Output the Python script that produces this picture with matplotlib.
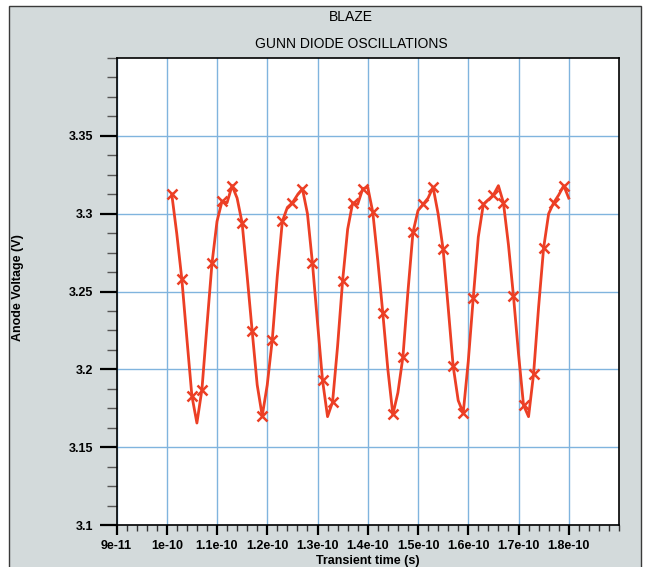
import numpy as np
import matplotlib.pyplot as plt
from matplotlib.patches import Rectangle
from matplotlib.ticker import MultipleLocator

plt.rcParams['font.family'] = ['Liberation Sans', 'DejaVu Sans']

# transient simulation output, one point per ps (markers on every 2nd point)
t_ps = np.arange(101, 181)
volts = [3.3125, 3.287, 3.258, 3.220, 3.183, 3.1655, 3.187, 3.228, 3.268, 3.295,
         3.308, 3.307, 3.318, 3.310, 3.294, 3.260, 3.2245, 3.190, 3.170, 3.190,
         3.219, 3.260, 3.295, 3.304, 3.307, 3.312, 3.316, 3.300, 3.268, 3.230,
         3.193, 3.1696, 3.179, 3.215, 3.257, 3.290, 3.307, 3.306, 3.316, 3.317,
         3.301, 3.270, 3.236, 3.200, 3.171, 3.185, 3.208, 3.250, 3.288, 3.302,
         3.306, 3.310, 3.317, 3.300, 3.277, 3.240, 3.202, 3.180, 3.172, 3.205,
         3.246, 3.285, 3.306, 3.309, 3.312, 3.318, 3.307, 3.280, 3.247, 3.210,
         3.177, 3.1696, 3.197, 3.240, 3.278, 3.300, 3.307, 3.312, 3.318, 3.310]
t = t_ps * 1e-12

xticks = [9e-11, 1e-10, 1.1e-10, 1.2e-10, 1.3e-10, 1.4e-10, 1.5e-10, 1.6e-10, 1.7e-10, 1.8e-10]
xlabels = ['9e-11', '1e-10', '1.1e-10', '1.2e-10', '1.3e-10', '1.4e-10',
           '1.5e-10', '1.6e-10', '1.7e-10', '1.8e-10']
yticks = [3.1, 3.15, 3.2, 3.25, 3.3, 3.35]
ylabels = ['3.1', '3.15', '3.2', '3.25', '3.3', '3.35']

W, H = 647, 567
fig = plt.figure(figsize=(W / 100, H / 100), dpi=100, facecolor='white')

# grey panel behind everything
panel = Rectangle((9 / W, -0.05), (641 - 9) / W, 1.05 - 6 / H,
                  transform=fig.transFigure, facecolor='#d3dadb',
                  edgecolor='#3a3a3a', lw=1.0, zorder=-10)
fig.patches.append(panel)

ax = fig.add_axes([116.5 / W, 1 - 525 / H, (619 - 116.5) / W, (525 - 58) / H])
ax.set_facecolor('white')

ax.plot(t, volts, color='#ec3f25', lw=2.0, marker='x', markevery=2,
        ms=7.5, mew=1.8, zorder=3)

ax.set_xlim(9e-11, 1.9e-10)
ax.set_ylim(3.1, 3.4)
ax.set_xticks(xticks)
ax.set_xticklabels(xlabels)
ax.set_yticks(yticks)
ax.set_yticklabels(ylabels)
ax.xaxis.set_minor_locator(MultipleLocator(2e-12))
ax.yaxis.set_minor_locator(MultipleLocator(0.0125))

ax.grid(True, which='major', color='#80b4de', lw=1.0)
ax.set_axisbelow(True)

for s in ax.spines.values():
    s.set_color('black')
    s.set_linewidth(1.2)

ax.tick_params(axis='y', which='major', length=12, width=1.6, pad=5,
               labelsize=9, direction='out')
ax.tick_params(axis='y', which='minor', length=7, width=1.0, color='#555555',
               direction='out')
ax.tick_params(axis='x', which='major', length=7, width=1.6, pad=4,
               labelsize=9, direction='out')
ax.tick_params(axis='x', which='minor', length=4.5, width=1.0, color='#333333',
               direction='out')
for lab in ax.get_xticklabels() + ax.get_yticklabels():
    lab.set_fontweight('bold')

fig.text(351 / W, 1 - 17 / H, 'BLAZE', ha='center', va='center', fontsize=10)
fig.text(351 / W, 1 - 44 / H, 'GUNN DIODE OSCILLATIONS', ha='center', va='center',
         fontsize=10)
fig.text(18 / W, 1 - 288 / H, 'Anode Voltage (V)', rotation=90, ha='center',
         va='center', fontsize=9, fontweight='bold')
fig.text(368 / W, 1 - 561 / H, 'Transient time (s)', ha='center', va='center',
         fontsize=9, fontweight='bold')

fig.savefig('out.png', dpi=100)
